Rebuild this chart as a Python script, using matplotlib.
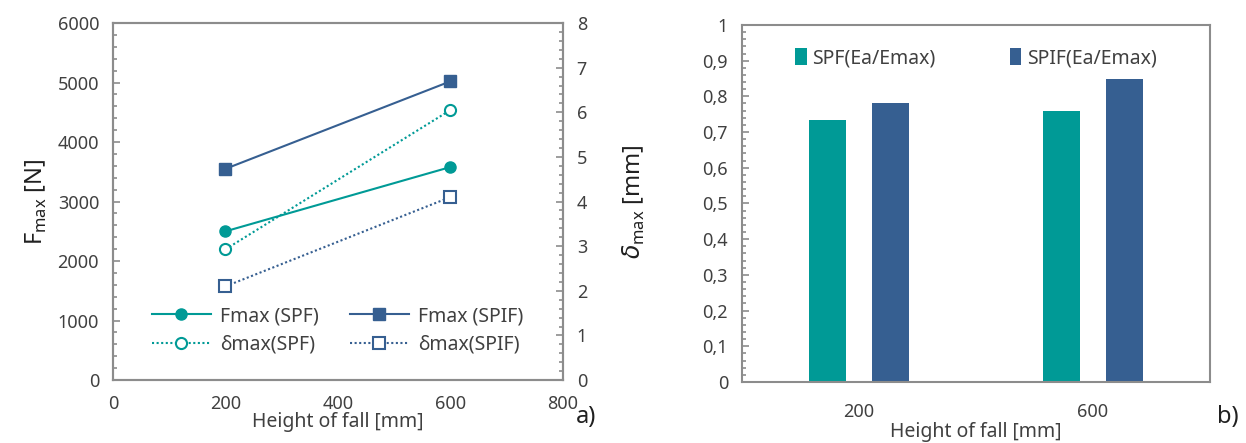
import matplotlib
matplotlib.use('Agg')
import matplotlib.pyplot as plt
from matplotlib.ticker import MultipleLocator

plt.rcParams['font.family'] = ['Noto Sans', 'DejaVu Sans']

TEAL = '#009a96'
BLUE = '#365f91'
TXT = '#404040'
FRAME = '#8c8c8c'

# panel a) data
heights = [200, 600]
fmax_spf = [2500, 3580]
fmax_spif = [3550, 5020]
dmax_spf = [2.93, 6.05]
dmax_spif = [2.10, 4.10]

# panel b) data
categories = ['200', '600']
ratio_spf = [0.735, 0.760]
ratio_spif = [0.780, 0.848]

fig = plt.figure(figsize=(12.46, 4.43), dpi=100)


def style_frame(ax):
    for s in ax.spines.values():
        s.set_color(FRAME)
        s.set_linewidth(1.5)


# ---- a) Fmax / delta max vs height of fall
ax1 = fig.add_axes([0.0907, 0.142, 0.361, 0.806])
ax2 = ax1.twinx()

l1, = ax1.plot(heights, fmax_spf, '-o', color=TEAL, lw=1.5, ms=8, label='Fmax (SPF)')
l2, = ax1.plot(heights, fmax_spif, '-s', color=BLUE, lw=1.5, ms=8, label='Fmax (SPIF)')
l3, = ax2.plot(heights, dmax_spf, ':o', color=TEAL, lw=1.5, ms=8, mfc='white',
               mew=1.5, label='δmax(SPF)')
l4, = ax2.plot(heights, dmax_spif, ':s', color=BLUE, lw=1.5, ms=8, mfc='white',
               mew=1.5, label='δmax(SPIF)')
l3.set_dashes([1, 1.2])
l4.set_dashes([1, 1.2])

ax1.set_xlim(0, 800)
ax1.set_ylim(0, 6000)
ax2.set_ylim(0, 8)
ax1.xaxis.set_major_locator(MultipleLocator(200))
ax1.yaxis.set_major_locator(MultipleLocator(1000))
ax1.yaxis.set_minor_locator(MultipleLocator(200))
ax2.yaxis.set_major_locator(MultipleLocator(1))
ax2.yaxis.set_minor_locator(MultipleLocator(0.2))

for ax in (ax1, ax2):
    style_frame(ax)
    ax.tick_params(axis='both', which='major', direction='in', length=5,
                   width=1.2, color=FRAME, labelsize=13, labelcolor=TXT)
    ax.tick_params(axis='y', which='minor', direction='in', length=3,
                   width=1.2, color=FRAME)
ax1.tick_params(axis='x', which='major', length=0, pad=11)
ax1.tick_params(axis='y', pad=10)
ax2.tick_params(axis='y', pad=10)

ax1.set_xlabel('Height of fall [mm]', fontsize=14, color=TXT, labelpad=-1)
ax1.set_ylabel('F$_{\\mathregular{max}}$ [N]', fontsize=17, color='#202020', labelpad=6)
ax2.set_ylabel('$\\delta_{\\mathregular{max}}$ [mm]', fontsize=17, color='#202020', labelpad=24)

# legend filled column-wise, so order handles to read Fmax row first
ax1.legend(handles=[l1, l3, l2, l4], ncol=2, loc='lower center',
           bbox_to_anchor=(0.5, 0.0), frameon=False, fontsize=14,
           labelcolor=TXT, handlelength=3.0, columnspacing=1.6,
           handletextpad=0.5, labelspacing=0.45, borderaxespad=0.9)

fig.text(0.462, 0.045, 'a)', fontsize=17, color='#202020')

# ---- b) energy ratio bars
ax3 = fig.add_axes([0.5955, 0.1377, 0.3756, 0.806])
xpos = range(len(categories))
width = 0.158
ax3.bar([x - 0.133 for x in xpos], ratio_spf, width, color=TEAL, label='SPF(Ea/Emax)')
ax3.bar([x + 0.133 for x in xpos], ratio_spif, width, color=BLUE, label='SPIF(Ea/Emax)')

ax3.set_xlim(-0.5, 1.5)
ax3.set_ylim(0, 1)
ax3.set_xticks(list(xpos))
ax3.set_xticklabels(categories)
ax3.yaxis.set_major_locator(MultipleLocator(0.1))
ax3.yaxis.set_minor_locator(MultipleLocator(0.02))
ax3.yaxis.set_major_formatter(plt.FuncFormatter(
    lambda v, p: ('%g' % round(v, 1)).replace('.', ',')))
style_frame(ax3)
ax3.tick_params(axis='y', which='major', direction='in', length=5, width=1.2,
                color=FRAME, labelsize=13, labelcolor=TXT, pad=10)
ax3.tick_params(axis='y', which='minor', direction='in', length=3, width=1.2,
                color=FRAME)
ax3.tick_params(axis='x', length=0, labelsize=13, labelcolor=TXT, pad=15)
ax3.set_xlabel('Height of fall [mm]', fontsize=14, color=TXT, labelpad=1)

ax3.legend(ncol=2, loc='upper center', frameon=False, fontsize=14,
           labelcolor=TXT, handlelength=0.6, handleheight=0.9,
           handletextpad=0.3, columnspacing=3.8, borderaxespad=0.8)

fig.text(0.977, 0.045, 'b)', fontsize=17, color='#202020')

plt.savefig('out.png', dpi=100)
